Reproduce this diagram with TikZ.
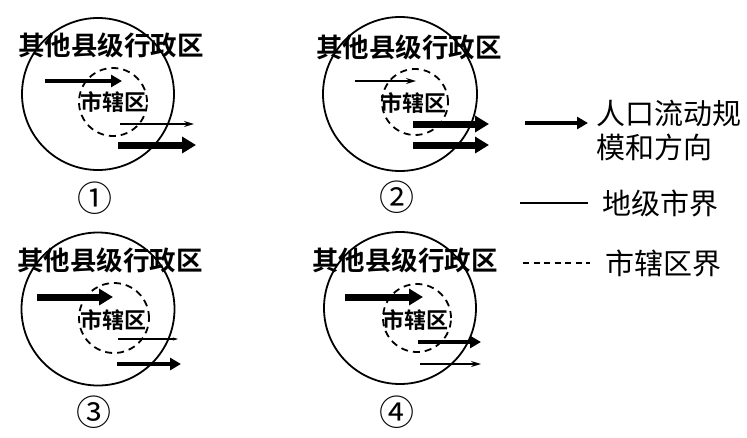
\documentclass[tikz,border=0pt]{standalone}
\usepackage{fontspec}
\newfontfamily\cjk{Noto Sans CJK SC}
\newfontfamily\cjkb{Noto Sans CJK SC Bold}
\usetikzlibrary{arrows.meta}
\tikzset{
  title/.style={font=\cjkb\fontsize{26.5}{26.5}\selectfont, inner sep=0pt},
  core/.style={font=\cjkb\fontsize{22}{22}\selectfont, inner sep=0pt},
  num/.style={font=\cjk\fontsize{35}{35}\selectfont, inner sep=0pt},
  legtext/.style={font=\cjk\fontsize{29}{29}\selectfont, inner sep=0pt, anchor=west},
  bound/.style={draw, line width=1.8pt},
  cityb/.style={draw, line width=1.8pt, dash pattern=on 7pt off 5pt},
  flowthin/.style={line width=1.3pt, -{Stealth[length=10pt,width=6pt]}},
  flowmed/.style={line width=4.5pt, -{Triangle[length=11pt,width=12pt]}},
  flowthick/.style={line width=7pt, -{Triangle[length=14pt,width=16pt]}},
}
\begin{document}
\begin{tikzpicture}[x=1pt,y=-1pt]
\useasboundingbox (0,0) rectangle (747,437);
% ---------- panel 1
\node[bound, circle, minimum size=152pt] (c1) at (98,94) {};
\node[cityb, circle, minimum size=68pt] (d1) at (113,102) {};
\node[title] (t1) at (111,45) {其他县级行政区};
\node[core] (k1) at (113,102) {市辖区};
\node[num] (n1) at (95,198) {①};
\coordinate (a1s) at (45,81); \coordinate (a1e) at (122,81);
\coordinate (b1s) at (120,124); \coordinate (b1e) at (194,124);
\coordinate (e1s) at (118,145); \coordinate (e1e) at (196,145);
\draw[flowmed] (a1s) -- (a1e);
\draw[flowthin] (b1s) -- (b1e);
\draw[flowthick] (e1s) -- (e1e);
% ---------- panel 2
\node[bound, circle, minimum size=154pt] (c2) at (400,94) {};
\node[cityb, circle, minimum size=66pt] (d2) at (415,102) {};
\node[title] (t2) at (409,47) {其他县级行政区};
\node[core] (k2) at (413,103) {市辖区};
\node[num] (n2) at (397,197) {②};
\coordinate (a2s) at (355,81); \coordinate (a2e) at (416,81);
\coordinate (b2s) at (413,124); \coordinate (b2e) at (489,124);
\coordinate (e2s) at (413,145); \coordinate (e2e) at (489,145);
\draw[flowthin] (a2s) -- (a2e);
\draw[flowthick] (b2s) -- (b2e);
\draw[flowthick] (e2s) -- (e2e);
% ---------- panel 3
\node[bound, circle, minimum size=153pt] (c3) at (98,309) {};
\node[cityb, circle, minimum size=70pt] (d3) at (114,318) {};
\node[title] (t3) at (110,260) {其他县级行政区};
\node[core] (k3) at (113,320) {市辖区};
\node[num] (n3) at (94,412) {③};
\coordinate (a3s) at (37,297); \coordinate (a3e) at (113,297);
\coordinate (b3s) at (118,339); \coordinate (b3e) at (178,339);
\coordinate (e3s) at (117,364); \coordinate (e3e) at (181,364);
\draw[flowthick] (a3s) -- (a3e);
\draw[line width=1.2pt, -{Stealth[length=5pt,width=3pt]}] (b3s) -- (b3e);
\draw[flowmed] (e3s) -- (e3e);
% ---------- panel 4
\node[bound, circle, minimum size=152pt] (c4) at (400,308) {};
\node[cityb, circle, minimum size=68pt] (d4) at (417,318) {};
\node[title] (t4) at (405,260) {其他县级行政区};
\node[core] (k4) at (415,320) {市辖区};
\node[num] (n4) at (397,412) {④};
\coordinate (a4s) at (345,297); \coordinate (a4e) at (423,297);
\coordinate (b4s) at (418,342); \coordinate (b4e) at (481,342);
\coordinate (e4s) at (420,364); \coordinate (e4e) at (481,364);
\draw[flowthick] (a4s) -- (a4e);
\draw[flowmed] (b4s) -- (b4e);
\draw[flowthin] (e4s) -- (e4e);
% ---------- legend
\coordinate (la) at (525,123); \coordinate (lb) at (588,123);
\draw[flowmed] (la) -- (lb);
\node[legtext] (l1) at (596,113) {人口流动规};
\node[legtext] (l2) at (596,147) {模和方向};
\coordinate (lc) at (520,203); \coordinate (ld) at (588,203);
\draw[line width=1.6pt] (lc) -- (ld);
\node[legtext] (l3) at (602,203) {地级市界};
\coordinate (le) at (523,263); \coordinate (lf) at (590,263);
\draw[line width=1.6pt, dash pattern=on 6pt off 4.5pt] (le) -- (lf);
\node[legtext] (l4) at (605,263) {市辖区界};
\end{tikzpicture}
\end{document}
